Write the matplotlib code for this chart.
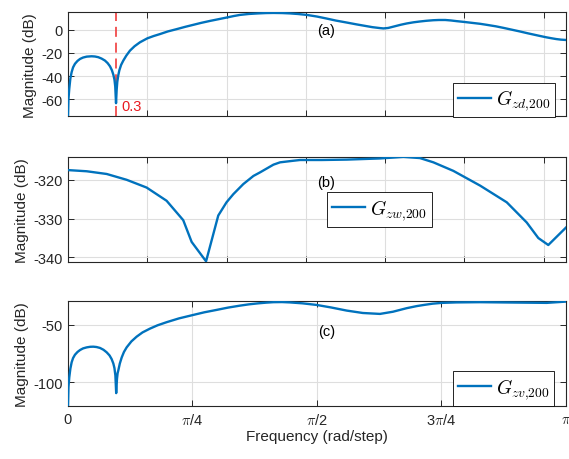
import matplotlib
matplotlib.use("Agg")
import matplotlib.pyplot as plt
import numpy as np

plt.rcParams['font.family'] = ['Liberation Sans', 'DejaVu Sans']
plt.rcParams['mathtext.fontset'] = 'cm'

# ---- data (frequency in rad/step, magnitude in dB) ----
w_a = [0.0, 0.003, 0.008, 0.015, 0.023, 0.032, 0.044, 0.06, 0.076, 0.095, 0.118, 0.149,
       0.17, 0.191, 0.212, 0.233, 0.25, 0.265, 0.277, 0.286, 0.293, 0.298, 0.303,
       0.307, 0.311, 0.317, 0.324, 0.335, 0.349, 0.368, 0.391, 0.42, 0.454, 0.5, 0.54,
       0.58, 0.63, 0.686, 0.74, 0.79, 0.84, 0.896, 0.95, 1.0, 1.045, 1.085, 1.14, 1.2,
       1.25, 1.296, 1.35, 1.4, 1.45, 1.506, 1.57, 1.63, 1.69, 1.758, 1.82, 1.87, 1.92,
       1.968, 1.99, 2.02, 2.06, 2.1, 2.137, 2.18, 2.22, 2.26, 2.305, 2.34, 2.38, 2.415,
       2.452, 2.5, 2.55, 2.6, 2.642, 2.7, 2.75, 2.8, 2.85, 2.9, 2.94, 2.98, 3.018, 3.05,
       3.08, 3.11, 3.1416]
mag_a = [-75, -60, -51, -42, -36.6, -32.5, -29.4, -26.9, -25.2, -24.0, -23.2, -22.9,
         -23.1, -23.7, -24.9, -26.6, -28.8, -31.6, -35.0, -38.8, -43, -49, -63.5,
         -52, -45, -39.5, -35, -30.4, -26.6, -22.3, -18, -14.2, -10.8, -7.4, -5.4,
         -3.7, -1.4, 0.6, 2.6, 4.3, 6.0, 7.7, 9.2, 10.6, 11.9, 12.9, 13.7, 14.2,
         14.5, 14.6, 14.5, 14.2, 13.7, 12.9, 11.5, 9.8, 8.0, 6.3, 4.7, 3.5, 2.3,
         1.5, 1.2, 1.6, 3.0, 4.4, 5.5, 6.5, 7.2, 7.8, 8.3, 8.5, 8.5, 8.1,
         7.5, 6.8, 6.0, 5.2, 4.3, 3.0, 1.6, 0.1, -1.4, -3.0, -4.2, -5.4, -6.5, -7.3,
         -8.0, -8.5, -8.8]

w_b = [0.0, 0.118, 0.244, 0.37, 0.496, 0.622, 0.727, 0.78, 0.871, 0.948, 1.0, 1.043,
       1.106, 1.17, 1.211, 1.296, 1.338, 1.42, 1.464, 1.6, 1.758, 1.968, 2.116, 2.22,
       2.305, 2.431, 2.6, 2.768, 2.894, 2.967, 3.03, 3.1416]
mag_b = [-317.5, -317.8, -318.5, -320, -322, -325.4, -330.4, -336, -341.0, -329.2, -325.8, -323.7,
         -321.1, -319, -318.1, -316.1, -315.5, -315.1, -314.9, -314.9, -314.8, -314.5, -314.1, -314.4,
         -315.5, -317.7, -321.5, -325.8, -331, -335, -336.8, -332.3]

w_c = [0.0, 0.003, 0.008, 0.015, 0.023, 0.032, 0.044, 0.06, 0.076, 0.095, 0.118, 0.14,
       0.16, 0.18, 0.202, 0.224, 0.244, 0.262, 0.275, 0.286, 0.293, 0.299, 0.304,
       0.309, 0.313, 0.317, 0.327, 0.339, 0.353, 0.37, 0.4, 0.433, 0.47, 0.517, 0.565,
       0.622, 0.7, 0.79, 0.86, 0.938, 1.01, 1.085, 1.14, 1.2, 1.25, 1.296, 1.35, 1.4,
       1.48, 1.569, 1.66, 1.758, 1.86, 1.968, 2.05, 2.137, 2.2, 2.25, 2.3, 2.358, 2.45,
       2.6, 2.8, 3.02, 3.1416]
mag_c = [-120.5, -104, -95.6, -88, -82.5, -78.8, -75.9, -73.5, -71.8, -70.4, -69.5, -69.0,
         -68.9, -69.2, -70, -71.6, -73.8, -76.5, -79.6, -83.5, -87.5, -94, -109.3,
         -97, -92, -89.8, -83.5, -78.2, -73.5, -69.5, -64.3, -60.2, -56.5, -53.2, -50.3,
         -47.6, -44.3, -41.3, -39.0, -36.9, -34.9, -33.2, -32.1, -31.2, -30.6, -30.2, -30.1, -30.4,
         -31.2, -32.6, -34.8, -37.5, -39.6, -40.4, -38.5, -35.4, -33.6, -32.5, -31.5, -30.8, -30.4,
         -30.2, -30.5, -30.8, -29.7]

labels = [r'$G_{zd{,}200}$', r'$G_{zw{,}200}$', r'$G_{zv{,}200}$']
panel_tags = ['(a)', '(b)', '(c)']
yticks = [[-60, -40, -20, 0], [-340, -330, -320], [-100, -50]]
ylims = [(-75, 15), (-341.1, -314.2), (-120.5, -29.6)]
xticks_top = [0, 0.5, 1.0, 1.5, 2.0, 2.5, 3.0]
xticks_bot = [0, np.pi/4, np.pi/2, 3*np.pi/4, np.pi]
xticklabels_bot = ['0', r'$\pi$/4', r'$\pi$/2', r'3$\pi$/4', r'$\pi$']
marker_freq = 0.3

blue = '#0072BD'
axc = '#262626'

fig = plt.figure(figsize=(5.69, 4.6), dpi=100)
rects = [[0.1195, 0.7446, 0.8752, 0.2261],
         [0.1195, 0.4289, 0.8752, 0.2270],
         [0.1195, 0.1152, 0.8752, 0.2272]]
data = [(w_a, mag_a), (w_b, mag_b), (w_c, mag_c)]
leg_pos = [(0.875, 0.159), (0.625, 0.5), (0.875, 0.167)]
tag_y = [0.83, 0.76, 0.72]

for i in range(3):
    ax = fig.add_axes(rects[i])
    if i == 0:
        ax.axvline(marker_freq, color='#f03c3c', lw=1.2, dashes=(6, 3.5), zorder=2)
        ax.text(marker_freq + 0.035, -66, '0.3', color='#e8191f', fontsize=10.5,
                va='center', ha='left')
    w, m = data[i]
    ax.plot(w, m, color=blue, lw=1.7, label=labels[i], zorder=3)
    ax.set_xlim(0, np.pi)
    ax.set_ylim(*ylims[i])
    ax.set_yticks(yticks[i])
    ax.set_yticklabels([str(v) for v in yticks[i]])
    if i < 2:
        ax.set_xticks(xticks_top)
        ax.set_xticklabels([])
    else:
        ax.set_xticks(xticks_bot)
        ax.set_xticklabels(xticklabels_bot)
        ax.set_xlabel('Frequency (rad/step)', fontsize=11, color=axc, labelpad=2)
    ax.set_ylabel('Magnitude (dB)', fontsize=11, color=axc, labelpad=3)
    ax.grid(True, color='#dedede', lw=0.8)
    ax.set_axisbelow(True)
    ax.tick_params(direction='in', top=True, right=True, length=4, width=0.7,
                   colors=axc, labelsize=10.5, pad=4)
    for s in ax.spines.values():
        s.set_color(axc)
        s.set_linewidth(0.8)
    ax.text(0.519, tag_y[i], panel_tags[i], transform=ax.transAxes, fontsize=10.5,
            color='black', ha='center', va='center')
    leg = ax.legend(loc='center', bbox_to_anchor=leg_pos[i], fontsize=14, frameon=True,
                    fancybox=False, edgecolor='black', framealpha=1, handlelength=1.7,
                    handletextpad=0.25, borderpad=0.25, borderaxespad=0)
    leg.get_frame().set_linewidth(0.6)

fig.savefig('out.png', dpi=100)
